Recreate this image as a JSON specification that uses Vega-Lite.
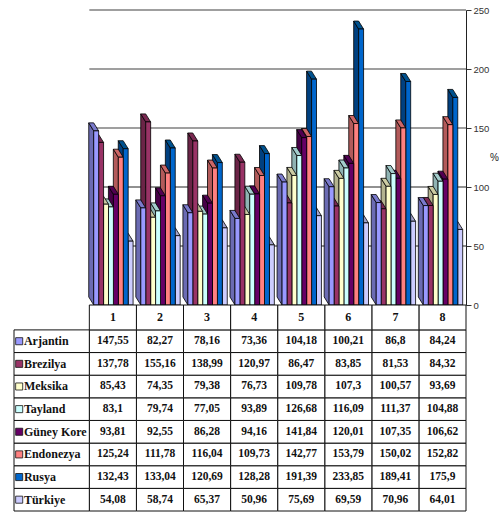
{
  "$schema": "https://vega.github.io/schema/vega-lite/v6.json",
  "padding": {"left": 13, "top": 5, "right": 0, "bottom": 0},
  "background": "white",
  "spacing": 0,
  "bounds": "flush",
  "config": {"view": {"stroke": null}},
  "data": {"values": [
    {"cat":8,"series":"Türkiye","value":64.01},{"cat":8,"series":"Rusya","value":175.9},{"cat":8,"series":"Endonezya","value":152.82},{"cat":8,"series":"Güney Kore","value":106.62},{"cat":8,"series":"Tayland","value":104.88},{"cat":8,"series":"Meksika","value":93.69},{"cat":8,"series":"Brezilya","value":84.32},{"cat":8,"series":"Arjantin","value":84.24},
    {"cat":7,"series":"Türkiye","value":70.96},{"cat":7,"series":"Rusya","value":189.41},{"cat":7,"series":"Endonezya","value":150.02},{"cat":7,"series":"Güney Kore","value":107.35},{"cat":7,"series":"Tayland","value":111.37},{"cat":7,"series":"Meksika","value":100.57},{"cat":7,"series":"Brezilya","value":81.53},{"cat":7,"series":"Arjantin","value":86.8},
    {"cat":6,"series":"Türkiye","value":69.59},{"cat":6,"series":"Rusya","value":233.85},{"cat":6,"series":"Endonezya","value":153.79},{"cat":6,"series":"Güney Kore","value":120.01},{"cat":6,"series":"Tayland","value":116.09},{"cat":6,"series":"Meksika","value":107.3},{"cat":6,"series":"Brezilya","value":83.85},{"cat":6,"series":"Arjantin","value":100.21},
    {"cat":5,"series":"Türkiye","value":75.69},{"cat":5,"series":"Rusya","value":191.39},{"cat":5,"series":"Endonezya","value":142.77},{"cat":5,"series":"Güney Kore","value":141.84},{"cat":5,"series":"Tayland","value":126.68},{"cat":5,"series":"Meksika","value":109.78},{"cat":5,"series":"Brezilya","value":86.47},{"cat":5,"series":"Arjantin","value":104.18},
    {"cat":4,"series":"Türkiye","value":50.96},{"cat":4,"series":"Rusya","value":128.28},{"cat":4,"series":"Endonezya","value":109.73},{"cat":4,"series":"Güney Kore","value":94.16},{"cat":4,"series":"Tayland","value":93.89},{"cat":4,"series":"Meksika","value":76.73},{"cat":4,"series":"Brezilya","value":120.97},{"cat":4,"series":"Arjantin","value":73.36},
    {"cat":3,"series":"Türkiye","value":65.37},{"cat":3,"series":"Rusya","value":120.69},{"cat":3,"series":"Endonezya","value":116.04},{"cat":3,"series":"Güney Kore","value":86.28},{"cat":3,"series":"Tayland","value":77.05},{"cat":3,"series":"Meksika","value":79.38},{"cat":3,"series":"Brezilya","value":138.99},{"cat":3,"series":"Arjantin","value":78.16},
    {"cat":2,"series":"Türkiye","value":58.74},{"cat":2,"series":"Rusya","value":133.04},{"cat":2,"series":"Endonezya","value":111.78},{"cat":2,"series":"Güney Kore","value":92.55},{"cat":2,"series":"Tayland","value":79.74},{"cat":2,"series":"Meksika","value":74.35},{"cat":2,"series":"Brezilya","value":155.16},{"cat":2,"series":"Arjantin","value":82.27},
    {"cat":1,"series":"Türkiye","value":54.08},{"cat":1,"series":"Rusya","value":132.43},{"cat":1,"series":"Endonezya","value":125.24},{"cat":1,"series":"Güney Kore","value":93.81},{"cat":1,"series":"Tayland","value":83.1},{"cat":1,"series":"Meksika","value":85.43},{"cat":1,"series":"Brezilya","value":137.78},{"cat":1,"series":"Arjantin","value":147.55}
  ]},
  "transform": [
    {"calculate": "indexof(['Arjantin','Brezilya','Meksika','Tayland','Güney Kore','Endonezya','Rusya','Türkiye'], datum.series)", "as": "s"},
    {"calculate": "replace(toString(datum.value), '.', ',')", "as": "label"},
    {"calculate": "datum.cat - 1 + 0.0934 + datum.s * 0.1045", "as": "left"},
    {"calculate": "datum.left + 0.1045", "as": "right"}
  ],
  "vconcat": [
    {
      "width": 452,
      "height": 295,
      "resolve": {"scale": {"fill": "independent"}},
      "layer": [
        {
          "data": {"values": [{"v": 250}, {"v": 200}, {"v": 150}]},
          "mark": {"type": "rule", "stroke": "#7f7f7f", "strokeWidth": 1.6},
          "encoding": {
            "y": {
              "field": "v",
              "type": "quantitative",
              "scale": {"domain": [0, 250], "nice": false},
              "axis": {
                "orient": "right",
                "values": [0, 50, 100, 150, 200, 250],
                "grid": false,
                "title": "%",
                "titleAngle": 0,
                "titleBaseline": "middle",
                "titleFont": "Liberation Sans",
                "titleFontSize": 10,
                "titleFontWeight": "normal",
                "titleColor": "#222222",
                "titlePadding": 5,
                "labelFont": "Liberation Sans",
                "labelFontSize": 9.5,
                "labelColor": "#333333",
                "labelPadding": 2,
                "tickSize": 5,
                "tickColor": "#333333",
                "domainColor": "#222222"
              }
            },
            "x": {"datum": 0, "type": "quantitative", "scale": {"domain": [-1.6, 8], "nice": false, "zero": false}, "axis": null},
            "x2": {"datum": 8}
          }
        },
        {
          "data": {"values": [{"v": 100}, {"v": 50}]},
          "mark": {"type": "rule", "stroke": "#222222", "strokeWidth": 1},
          "encoding": {
            "y": {"field": "v", "type": "quantitative", "scale": {"domain": [0, 250], "nice": false}},
            "x": {"datum": 0, "type": "quantitative", "scale": {"domain": [-1.6, 8], "nice": false, "zero": false}},
            "x2": {"datum": 8}
          }
        },
        {
          "transform": [
            {"calculate": "['side', 'top']", "as": "face"},
            {"flatten": ["face"]},
            {"calculate": "[0, 1, 2, 3]", "as": "vertex"},
            {"flatten": ["vertex"]},
            {"calculate": "datum.face == 'side' ? (datum.vertex < 2 ? datum.left : datum.left - 0.106) : ((datum.vertex == 0 ? datum.left : datum.vertex == 1 ? datum.right : datum.vertex == 2 ? datum.right - 0.106 : datum.left - 0.106))", "as": "px"},
            {"calculate": "datum.face == 'side' ? (datum.vertex == 0 ? 0 : datum.vertex == 1 ? datum.value : datum.vertex == 2 ? datum.value + 6.8 : 6.8) : (datum.vertex < 2 ? datum.value : datum.value + 6.8)", "as": "py"},
            {"calculate": "datum.series + ' ' + datum.face", "as": "shade"}
          ],
          "mark": {"type": "line", "interpolate": "linear-closed", "stroke": "black", "strokeWidth": 0.8},
          "encoding": {
            "x": {"field": "px", "type": "quantitative", "scale": {"domain": [-1.6, 8], "nice": false, "zero": false}},
            "y": {"field": "py", "type": "quantitative", "scale": {"domain": [0, 250], "nice": false}},
            "order": {"field": "vertex"},
            "detail": {"field": "cat"},
            "fill": {
              "field": "shade",
              "type": "nominal",
              "legend": null,
              "scale": {
                "domain": ["Arjantin side","Arjantin top","Brezilya side","Brezilya top","Meksika side","Meksika top","Tayland side","Tayland top","Güney Kore side","Güney Kore top","Endonezya side","Endonezya top","Rusya side","Rusya top","Türkiye side","Türkiye top"],
                "range": ["#6b6bb3","#7a7acc","#6b2447","#7a2952","#b3b38f","#cccca3","#8fb3b3","#a3cccc","#470047","#520052","#b35a5a","#cc6666","#004080","#00528f","#8f8fb3","#a3a3cc"]
              }
            }
          }
        },
        {
          "mark": {"type": "rect", "stroke": "black", "strokeWidth": 0.8},
          "encoding": {
            "x": {"field": "left", "type": "quantitative", "scale": {"domain": [-1.6, 8], "nice": false, "zero": false}},
            "x2": {"field": "right"},
            "y": {"field": "value", "type": "quantitative", "scale": {"domain": [0, 250], "nice": false}},
            "y2": {"datum": 0},
            "fill": {
              "field": "series",
              "type": "nominal",
              "legend": null,
              "scale": {
                "domain": ["Arjantin","Brezilya","Meksika","Tayland","Güney Kore","Endonezya","Rusya","Türkiye"],
                "range": ["#9999ff","#993366","#ffffcc","#ccffff","#660066","#ff8080","#0066cc","#ccccff"]
              }
            }
          }
        }
      ]
    },
    {
      "width": 452,
      "height": 206,
      "transform": [
        {"calculate": "1.1 + datum.s", "as": "rowTop"},
        {"calculate": "2.1 + datum.s", "as": "rowBottom"},
        {"calculate": "1.6 + datum.s", "as": "rowMid"},
        {"calculate": "datum.cat - 1", "as": "catStart"},
        {"calculate": "datum.cat - 0.5", "as": "catMid"}
      ],
      "layer": [
        {
          "mark": {"type": "rect", "fill": "white", "stroke": "#111111", "strokeWidth": 1},
          "encoding": {
            "x": {"field": "catStart", "type": "quantitative", "scale": {"domain": [-1.6, 8], "nice": false, "zero": false}, "axis": null},
            "x2": {"field": "cat"},
            "y": {"field": "rowTop", "type": "quantitative", "scale": {"domain": [0, 9.1], "reverse": true, "nice": false, "zero": false}, "axis": null},
            "y2": {"field": "rowBottom"}
          }
        },
        {
          "transform": [{"filter": "datum.series == 'Arjantin'"}],
          "mark": {"type": "rect", "fill": "white", "stroke": "#111111", "strokeWidth": 1},
          "encoding": {
            "x": {"field": "catStart", "type": "quantitative"},
            "x2": {"field": "cat"},
            "y": {"datum": 0, "type": "quantitative"},
            "y2": {"datum": 1.1}
          }
        },
        {
          "transform": [{"filter": "datum.cat == 1"}],
          "mark": {"type": "rect", "fill": "white", "stroke": "#111111", "strokeWidth": 1},
          "encoding": {
            "x": {"datum": -1.6, "type": "quantitative"},
            "x2": {"datum": 0},
            "y": {"field": "rowTop", "type": "quantitative"},
            "y2": {"field": "rowBottom"}
          }
        },
        {
          "transform": [{"filter": "datum.cat == 1"}],
          "mark": {"type": "square", "size": 50, "filled": true, "stroke": "#111111", "strokeWidth": 0.8, "opacity": 1},
          "encoding": {
            "x": {"datum": -1.49, "type": "quantitative"},
            "y": {"field": "rowMid", "type": "quantitative"},
            "fill": {
              "field": "series",
              "type": "nominal",
              "legend": null,
              "scale": {
                "domain": ["Arjantin","Brezilya","Meksika","Tayland","Güney Kore","Endonezya","Rusya","Türkiye"],
                "range": ["#9999ff","#993366","#ffffcc","#ccffff","#660066","#ff8080","#0066cc","#ccccff"]
              }
            }
          }
        },
        {
          "transform": [{"filter": "datum.cat == 1"}],
          "mark": {"type": "text", "align": "left", "baseline": "middle", "font": "Liberation Serif", "fontWeight": "bold", "fontSize": 12, "color": "#111111"},
          "encoding": {
            "x": {"datum": -1.39, "type": "quantitative"},
            "y": {"field": "rowMid", "type": "quantitative"},
            "text": {"field": "series"}
          }
        },
        {
          "transform": [{"filter": "datum.series == 'Arjantin'"}],
          "mark": {"type": "text", "align": "center", "baseline": "middle", "font": "Liberation Serif", "fontWeight": "bold", "fontSize": 12, "color": "#111111"},
          "encoding": {
            "x": {"field": "catMid", "type": "quantitative"},
            "y": {"datum": 0.55, "type": "quantitative"},
            "text": {"field": "cat"}
          }
        },
        {
          "mark": {"type": "text", "align": "center", "baseline": "middle", "font": "Liberation Serif", "fontWeight": "bold", "fontSize": 11.5, "color": "#111111"},
          "encoding": {
            "x": {"field": "catMid", "type": "quantitative"},
            "y": {"field": "rowMid", "type": "quantitative"},
            "text": {"field": "label"}
          }
        }
      ]
    }
  ]
}
